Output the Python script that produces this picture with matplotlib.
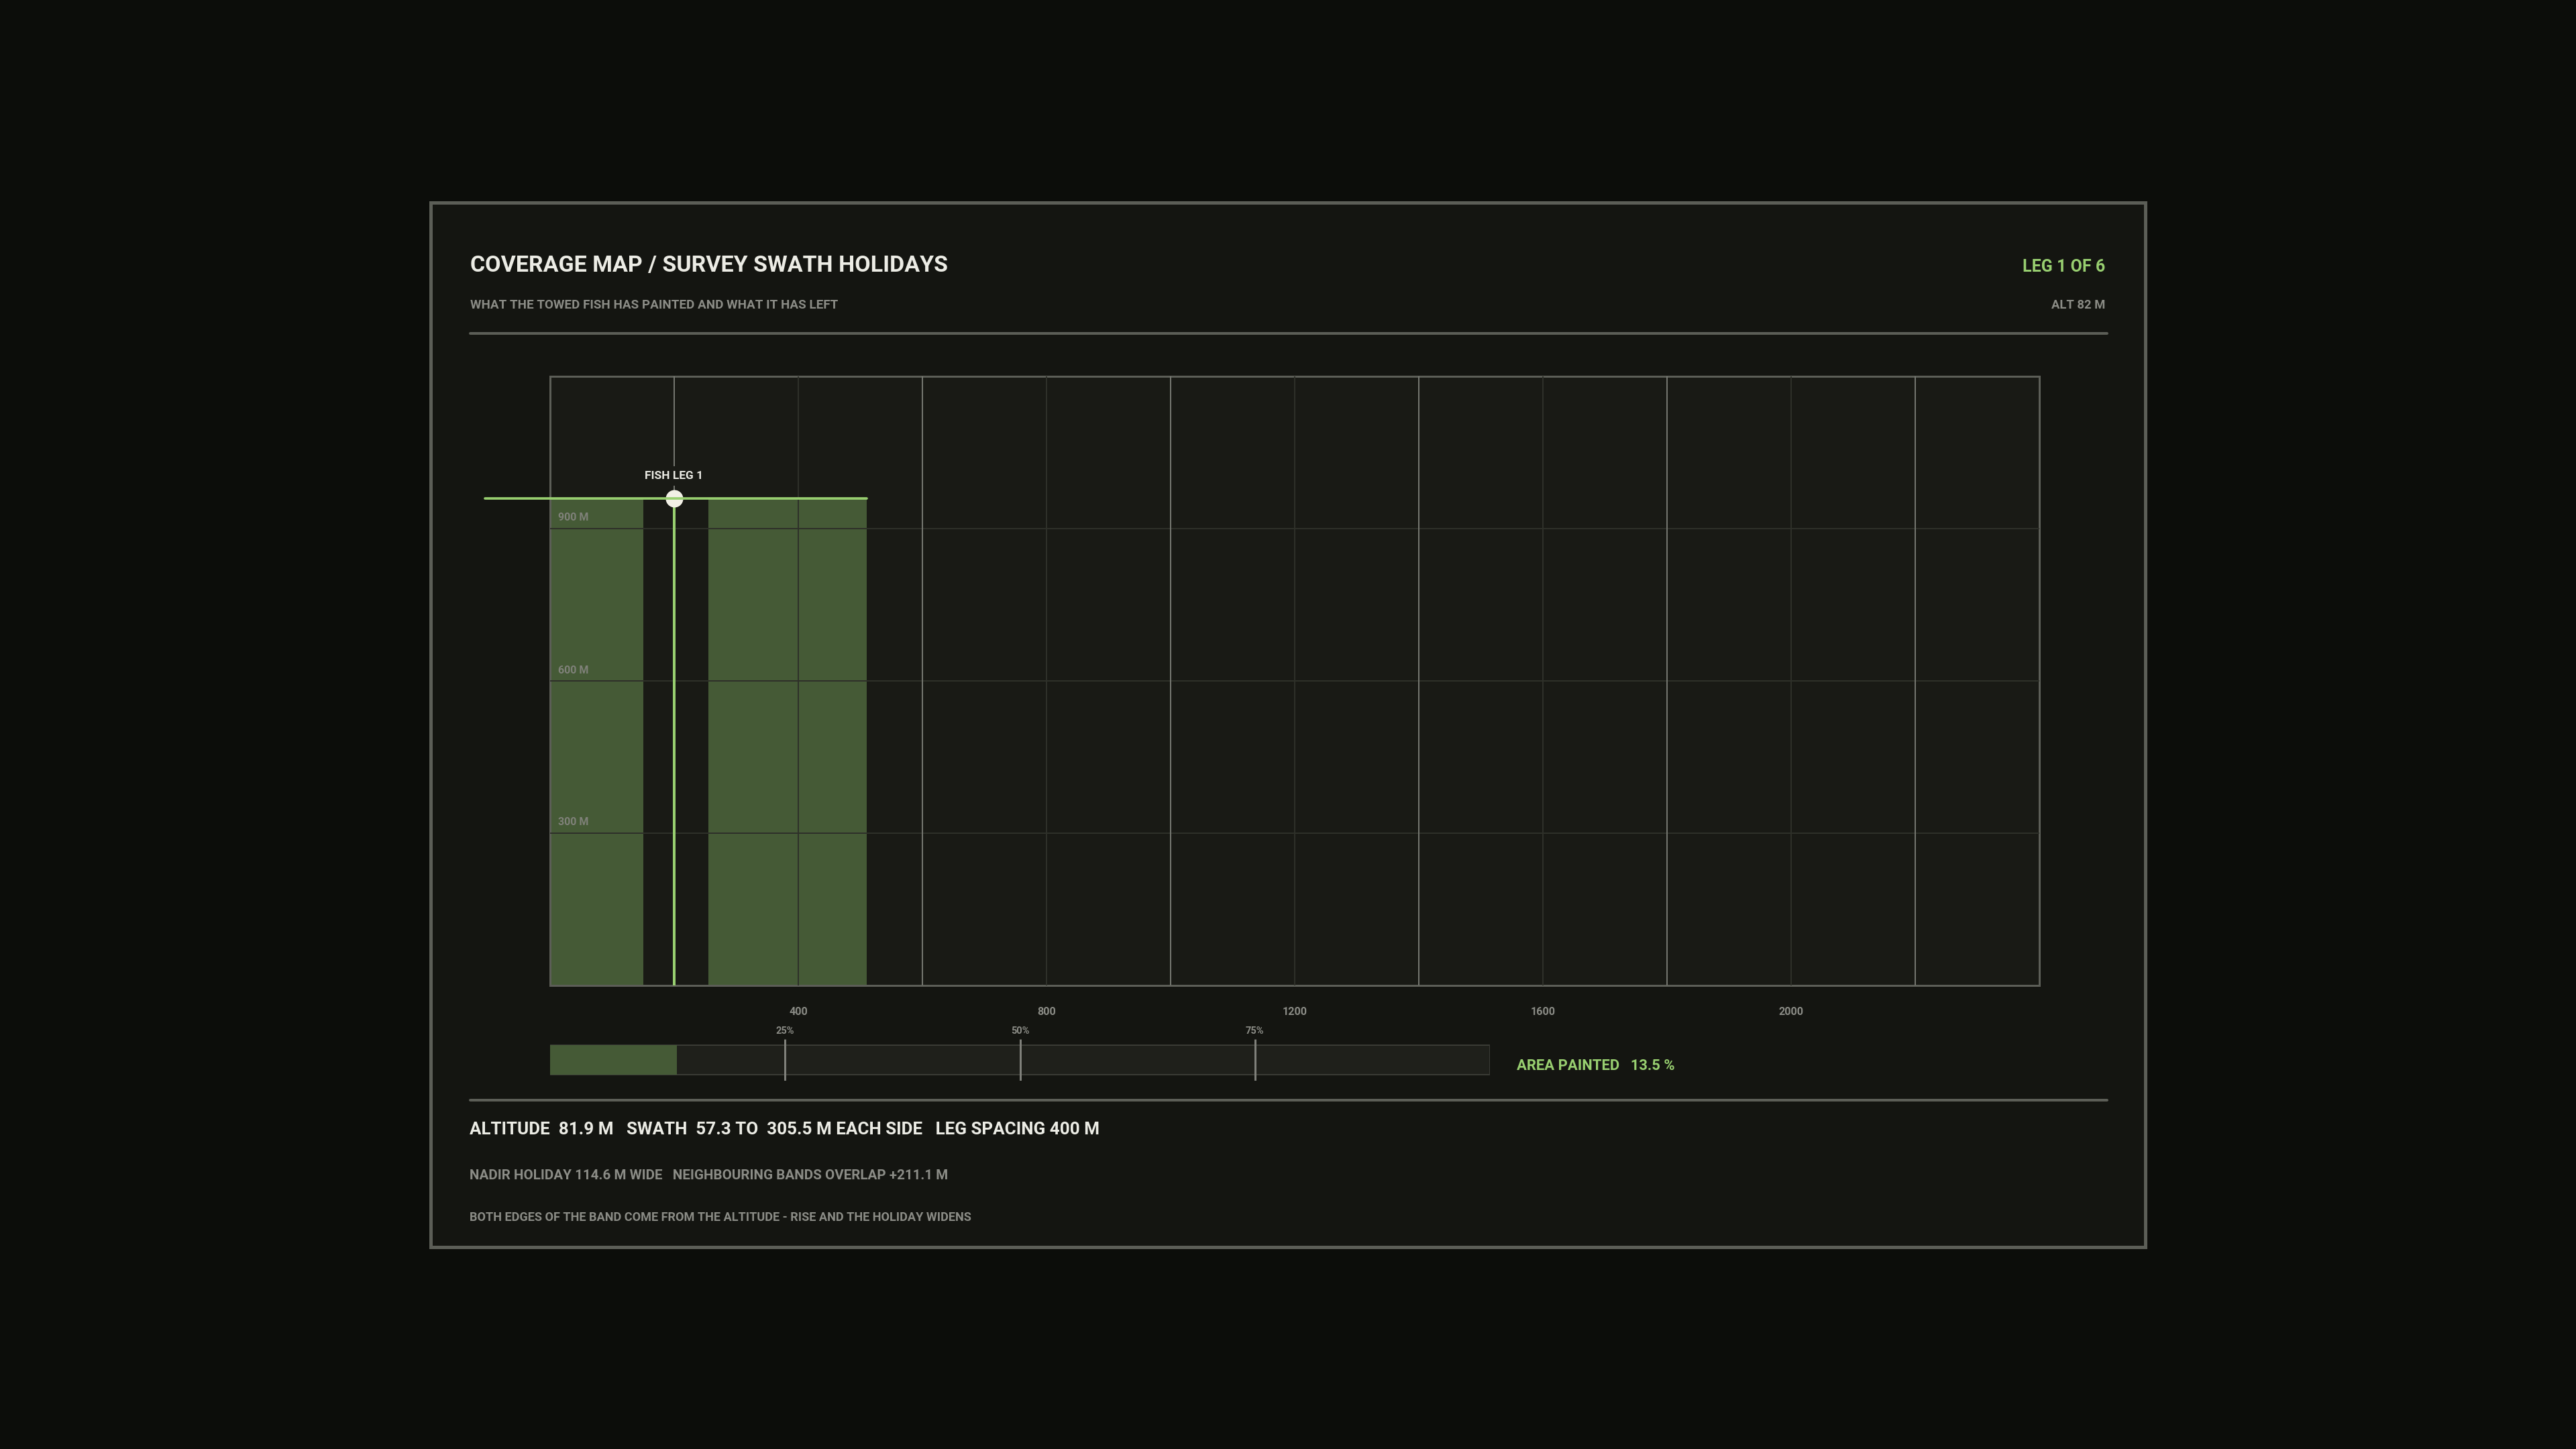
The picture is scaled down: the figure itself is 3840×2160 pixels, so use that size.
import matplotlib
matplotlib.use("Agg")
import matplotlib.pyplot as plt
from matplotlib.patches import Rectangle
from matplotlib.lines import Line2D

plt.rcParams['font.family'] = ['Roboto', 'DejaVu Sans']

# frame shown: fish on leg 1, 80% along the leg
leg_tracks = [200, 600, 1000, 1400, 1800, 2200]
fish_x = 200
fish_y = 960
# painted bands either side of the nadir holiday, as drawn (metres across track)
band_left = (-105, 150)
band_right = (255, 510)
x_ticks = [400, 800, 1200, 1600, 2000]
x_tick_labels = ["400", "800", "1200", "1600", "2000"]
y_grid = [300, 600, 900]
y_labels = ["300 M", "600 M", "900 M"]
area_painted = 13.5
pct_marks = [25, 50, 75]
pct_labels = ["25%", "50%", "75%"]
x_max = 2400
y_max = 1200

BG = "#0c0d0a"
CARD = "#141511"
PLOT_BG = "#191a15"
BORDER = "#5c5e57"
GRID = "#2e3029"
LEG_LINE = "#74766f"
BAND = "#455a36"
GREEN = "#98cf70"
FISH = "#f2f0e6"
WHITE = "#ecece5"
GRAY = "#8b8c86"
BAR_EMPTY = "#1f201b"
BAR_EDGE = "#3a3b35"

W, H = 3840, 2160
PX = 72 / 100  # points per pixel


def fx(px):
    return px / W


def fy(py):
    return 1 - py / H


fig = plt.figure(figsize=(38.4, 21.6), dpi=100, facecolor=BG)

# card
fig.add_artist(Rectangle((fx(641.5), fy(1858.5)), fx(3198.5) - fx(641.5), fy(301.5) - fy(1858.5),
                         transform=fig.transFigure, facecolor=CARD, edgecolor=BORDER,
                         lw=5 * PX, zorder=-1))

# header
fig.text(fx(701), fy(405), "COVERAGE MAP / SURVEY SWATH HOLIDAYS", color=WHITE,
         fontsize=24.5, fontweight="bold", ha="left", va="baseline")
fig.text(fx(701), fy(459.5), "WHAT THE TOWED FISH HAS PAINTED AND WHAT IT HAS LEFT", color=GRAY,
         fontsize=13.6, fontweight="bold", ha="left", va="baseline")
fig.text(fx(3138), fy(405), "LEG 1 OF 6", color=GREEN,
         fontsize=18, fontweight="bold", ha="right", va="baseline")
fig.text(fx(3138), fy(460), "ALT 82 M", color=GRAY,
         fontsize=13.2, fontweight="bold", ha="right", va="baseline")
fig.add_artist(Line2D([fx(701), fx(3141)], [fy(497), fy(497)], transform=fig.transFigure,
                      color=BORDER, lw=4 * PX, solid_capstyle="round"))

# coverage map
ax = fig.add_axes([fx(820), fy(1469), fx(3040) - fx(820), fy(561) - fy(1469)])
ax.set_facecolor(PLOT_BG)
ax.set_xlim(0, x_max)
ax.set_ylim(0, y_max)
for s in ax.spines.values():
    s.set_color(BORDER)
    s.set_linewidth(3 * PX)

ax.set_xticks(x_ticks, x_tick_labels)
ax.set_yticks(y_grid)
ax.tick_params(axis="x", length=0, pad=23, labelcolor=GRAY, labelsize=11.6)
ax.tick_params(axis="y", length=0, labelleft=False)
for lbl in ax.get_xticklabels():
    lbl.set_fontweight("bold")
ax.set_axisbelow(False)
ax.grid(True, color=GRID, lw=2 * PX)

for b0, b1 in (band_left, band_right):
    ax.fill_betweenx([0, fish_y], b0, b1, color=BAND, lw=0, zorder=1)

for lx in leg_tracks:
    ax.axvline(lx, color=LEG_LINE, lw=2 * PX, zorder=2.6)

ax.plot([fish_x, fish_x], [0, fish_y], color=GREEN, lw=4 * PX, zorder=3, solid_capstyle="butt")
ax.plot([fish_x], [fish_y], "o", ms=26 * PX, color=FISH, mec="none", zorder=4)
ax.plot([band_left[0], band_right[1]], [fish_y, fish_y], color=GREEN,
        lw=3.7 * PX, zorder=5, clip_on=False, solid_capstyle="round")
ax.annotate("FISH LEG 1", (fish_x, fish_y), xytext=(0, 29 * PX), textcoords="offset points",
            ha="center", va="baseline", color=WHITE, fontsize=12.5, fontweight="bold", zorder=6,
            bbox=dict(boxstyle="square,pad=0.4", fc=PLOT_BG, ec="none"))

for v, lab in zip(y_grid, y_labels):
    ax.annotate(lab, (0, v), xytext=(12 * PX, 11.5 * PX), textcoords="offset points",
                ha="left", va="baseline", color="#7f8179", fontsize=11.5, fontweight="bold", zorder=6)

# area painted bar
pax = fig.add_axes([fx(820), fy(1611), fx(2221) - fx(820), fy(1549) - fy(1611)])
pax.set_xlim(0, 100)
pax.set_ylim(0, 1)
pax.axis("off")
pax.barh(0.5, 100, height=44 / 62, color=BAR_EMPTY, edgecolor=BAR_EDGE, lw=2 * PX)
pax.barh(0.5, area_painted, height=44 / 62, color=BAND, lw=0)
pax.vlines(pct_marks, 0, 1, color="#7f807a", lw=3 * PX)
for m, lab in zip(pct_marks, pct_labels):
    pax.annotate(lab, (m, 1), xytext=(0, 8 * PX), textcoords="offset points", ha="center",
                 va="baseline", color=GRAY, fontsize=10.5, fontweight="bold", annotation_clip=False)

fig.text(fx(2261), fy(1595), f"AREA PAINTED   {area_painted} %", color=GREEN,
         fontsize=15.8, fontweight="bold", ha="left", va="baseline")

# footer
fig.add_artist(Line2D([fx(701), fx(3141)], [fy(1640), fy(1640)], transform=fig.transFigure,
                      color=BORDER, lw=4 * PX, solid_capstyle="round"))
fig.text(fx(700), fy(1691),
         "ALTITUDE  81.9 M   SWATH  57.3 TO  305.5 M EACH SIDE   LEG SPACING 400 M",
         color=WHITE, fontsize=18.7, fontweight="bold", ha="left", va="baseline")
fig.text(fx(700), fy(1758.5), "NADIR HOLIDAY 114.6 M WIDE   NEIGHBOURING BANDS OVERLAP +211.1 M",
         color=GRAY, fontsize=14.9, fontweight="bold", ha="left", va="baseline")
fig.text(fx(700), fy(1820.5),
         "BOTH EDGES OF THE BAND COME FROM THE ALTITUDE - RISE AND THE HOLIDAY WIDENS",
         color=GRAY, fontsize=13.1, fontweight="bold", ha="left", va="baseline")

fig.savefig("out.png", dpi=100, facecolor=BG)
